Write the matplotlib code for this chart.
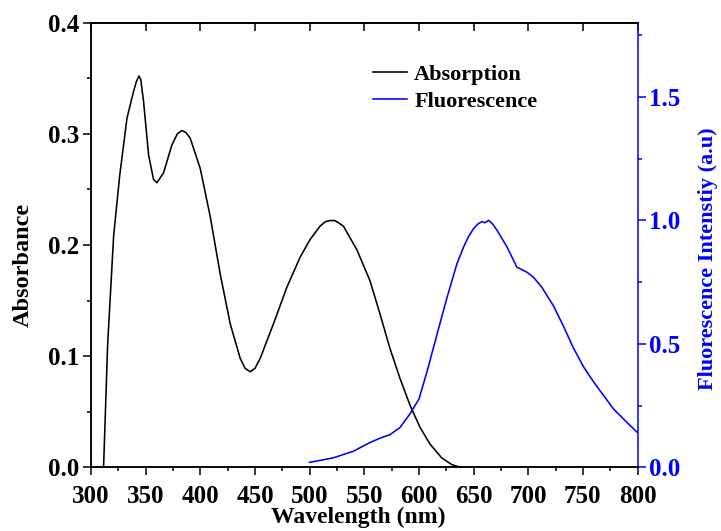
import matplotlib
matplotlib.use("Agg")
import matplotlib.pyplot as plt
from matplotlib.ticker import MultipleLocator

plt.rcParams['font.family'] = ['Liberation Serif', 'DejaVu Serif']
plt.rcParams['font.weight'] = 'bold'

abs_wl = [311.5, 315.2, 320.7, 326.2, 332.9, 338.9, 341.5, 343.9, 345.5, 348.1, 352.7,
          357.2, 360.3, 366.4, 374.0, 379.0, 383.2, 387.0, 390.8, 399.9, 409.0, 418.2,
          427.4, 436.5, 441.0, 445.7, 450.0, 454.8, 466.9, 479.2, 491.3, 500.5, 509.6,
          514.5, 518.8, 523.0, 526.5, 530.9, 543.1, 555.2, 564.4, 573.5, 582.7, 591.8,
          601.0, 610.1, 620.8, 630.0, 637.6, 645.0]
abs_val = [0.0, 0.110, 0.208, 0.262, 0.314, 0.338, 0.347, 0.352, 0.349, 0.329, 0.281,
           0.259, 0.256, 0.265, 0.290, 0.300, 0.303, 0.301, 0.296, 0.269, 0.226, 0.174,
           0.129, 0.098, 0.089, 0.086, 0.089, 0.098, 0.129, 0.162, 0.189, 0.205, 0.217,
           0.221, 0.222, 0.222, 0.220, 0.217, 0.196, 0.168, 0.138, 0.107, 0.080, 0.056,
           0.036, 0.021, 0.0085, 0.0025, 0.0, 0.0]

fl_wl = [500.0, 521.5, 540.0, 555.2, 564.4, 573.5, 582.7, 591.8, 600.1, 607.4, 616.5,
         625.7, 634.8, 640.9, 645.5, 650.1, 654.0, 657.7, 660.5, 663.8, 667.5, 671.4,
         680.6, 689.7, 698.8, 704.9, 712.6, 723.2, 732.3, 741.5, 750.6, 759.8, 768.9,
         778.1, 790.3, 799.4, 800.0]
fl_val = [0.020, 0.038, 0.065, 0.100, 0.118, 0.132, 0.161, 0.216, 0.277, 0.387, 0.537,
          0.687, 0.824, 0.892, 0.935, 0.967, 0.985, 0.995, 0.990, 1.000, 0.985, 0.960,
          0.892, 0.810, 0.790, 0.769, 0.728, 0.653, 0.571, 0.482, 0.407, 0.346, 0.291,
          0.236, 0.182, 0.143, 0.141]

BLUE = '#0000ff'
W, H = 721, 531
L, R, T, B = 91, 637.5, 22.7, 467.3

fig = plt.figure(figsize=(W / 100, H / 100), dpi=100)
ax = fig.add_axes([L / W, 1 - B / H, (R - L) / W, (B - T) / H])
ax2 = ax.twinx()

l1, = ax.plot(abs_wl, abs_val, color='black', lw=1.15, label='Absorption')
l2, = ax2.plot(fl_wl, fl_val, color=BLUE, lw=1.15, label='Fluorescence')

ax.set_xlim(300, 800)
ax.set_ylim(0, 0.4)
ax2.set_ylim(0, 1.8)

fs = 18
ax.xaxis.set_major_locator(MultipleLocator(50))
ax.xaxis.set_minor_locator(MultipleLocator(25))
ax.yaxis.set_major_locator(MultipleLocator(0.1))
ax.yaxis.set_minor_locator(MultipleLocator(0.05))
ax2.yaxis.set_major_locator(MultipleLocator(0.5))
ax2.yaxis.set_minor_locator(MultipleLocator(0.25))

lw = 1.1
ax.tick_params(axis='x', which='major', direction='out', length=5.5, width=lw,
               labelsize=fs, top=False, pad=7)
ax.tick_params(axis='x', which='minor', direction='out', length=3, width=lw, top=False)
ax.tick_params(axis='y', which='major', direction='out', length=5.5, width=lw,
               labelsize=fs, right=False, pad=3)
ax.tick_params(axis='y', which='minor', direction='out', length=3, width=lw, right=False)
ax2.tick_params(axis='y', which='major', direction='out', length=5.5, width=lw,
                labelsize=fs, colors=BLUE, pad=3)
ax2.tick_params(axis='y', which='minor', direction='out', length=3, width=lw,
                colors=BLUE)

# top ticks inward (major only)
secx = ax.secondary_xaxis('top')
secx.xaxis.set_major_locator(MultipleLocator(50))
secx.tick_params(axis='x', direction='in', length=5.5, width=lw, labeltop=False)

for lab in ax.get_xticklabels() + ax.get_yticklabels() + ax2.get_yticklabels():
    lab.set_fontweight('bold')

for a in (ax, ax2):
    for sp in ['left', 'bottom', 'top']:
        a.spines[sp].set_linewidth(lw)
secx.spines['top'].set_linewidth(lw)
ax2.spines['right'].set_color(BLUE)
ax2.spines['right'].set_linewidth(lw)
ax.spines['right'].set_visible(False)

pw, ph = R - L, B - T
ax.set_xlabel('Wavelength (nm)', fontsize=17, fontweight='bold')
ax.xaxis.set_label_coords((358 - L) / pw, (B - 517) / ph)
ax.xaxis.label.set_va('center')
ax.set_ylabel('Absorbance', fontsize=17.5, fontweight='bold')
ax.yaxis.set_label_coords((23 - L) / pw, (B - 265) / ph)
ax.yaxis.label.set_va('center')
ax.yaxis.label.set_ha('center')
ax2.set_ylabel('Fluorescence Intenstiy (a.u)', fontsize=16, fontweight='bold',
               color=BLUE)
ax2.yaxis.set_label_coords((708 - L) / pw, (B - 259) / ph)
ax2.yaxis.label.set_va('center')
ax2.yaxis.label.set_ha('center')

leg = ax.legend(handles=[l1, l2], loc='upper left',
                bbox_to_anchor=((373 - L) / pw, (B - 64) / ph),
                frameon=False, fontsize=16, handlelength=1.55, handletextpad=0.3,
                labelspacing=0.3, borderaxespad=0, borderpad=0)
for t in leg.get_texts():
    t.set_fontweight('bold')
for h in leg.legend_handles:
    h.set_linewidth(1.15)

fig.savefig('out.png', dpi=100)
